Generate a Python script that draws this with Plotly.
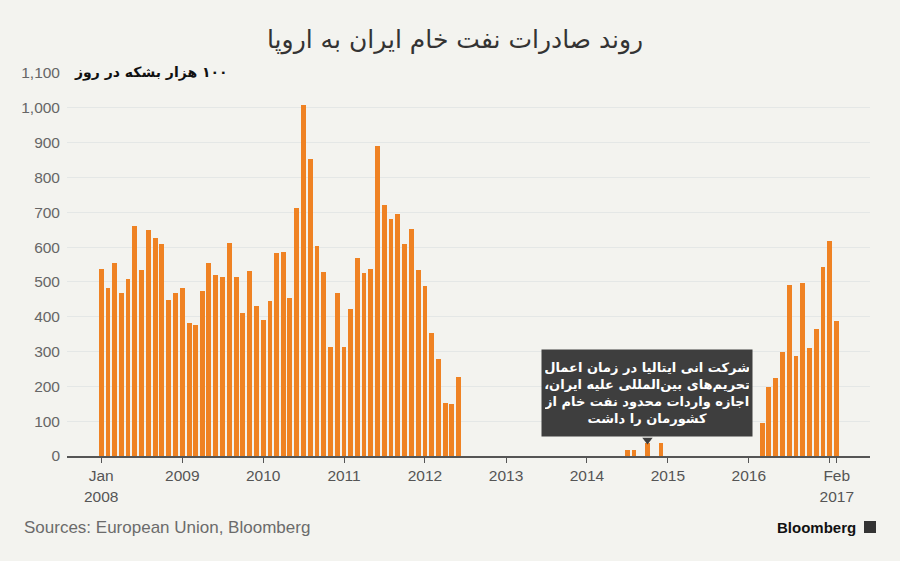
import plotly.graph_objects as go
import pandas as pd

W, H = 900, 561
L, R, T, B = 67, 30, 73, 105

# Monthly crude exports to Europe (thousand barrels/day)
months_a = pd.date_range("2008-01-01", "2012-06-01", freq="MS")
values_a = [538, 483, 555, 469, 507, 660, 534, 649, 627, 610, 447, 467,
            483, 383, 376, 473, 554, 520, 514, 612, 514, 411, 531, 431,
            392, 444, 583, 587, 453, 712, 1008, 853, 604, 528, 314, 468,
            312, 423, 569, 527, 537, 891, 720, 681, 696, 608, 653, 535,
            489, 353, 278, 152, 148, 226]
months_b = ["2014-07-01", "2014-08-01", "2014-10-01", "2014-12-01"]
values_b = [18, 18, 36, 36]
months_c = pd.date_range("2016-03-01", "2017-02-01", freq="MS")
values_c = [94, 197, 223, 298, 490, 288, 498, 310, 365, 544, 617, 389]

x_ticks = ["2008-01-01", "2009-01-01", "2010-01-01", "2011-01-01", "2012-01-01",
           "2013-01-01", "2014-01-01", "2015-01-01", "2016-01-01", "2017-01-01",
           "2017-02-01"]
x_ticktext = ["Jan<br>2008", "2009", "2010", "2011", "2012", "2013", "2014",
              "2015", "2016", "", "Feb<br>2017"]
y_ticks = [0, 100, 200, 300, 400, 500, 600, 700, 800, 900, 1000, 1100]

title = "روند صادرات نفت خام ایران به اروپا"
unit = "۱۰۰ هزار بشکه در روز"
note_lines = ["شرکت انی ایتالیا در زمان اعمال",
              "تحریم‌های بین‌المللی علیه ایران،",
              "اجازه واردات محدود نفت خام از",
              "کشورمان را داشت"]
note_x = "2014-10-01"
source = "Sources: European Union, Bloomberg"


def rtl(s):
    return "\u202B" + s + "\u202C"


x_all = [d.strftime("%Y-%m-%d") for d in months_a] + months_b + \
        [d.strftime("%Y-%m-%d") for d in months_c]
y_all = values_a + values_b + values_c

BG = "#f3f3ef"
ORANGE = "#ef8223"
DAY = 86400000

fig = go.Figure()
fig.add_trace(go.Bar(x=x_all, y=y_all, marker=dict(color=ORANGE, line=dict(width=0)),
                     width=[22 * DAY] * len(x_all), hoverinfo="x+y"))
fig.add_trace(go.Scatter(x=[note_x], y=[46], mode="markers",
                         marker=dict(symbol="triangle-down", size=9, color="#3e3e3e"),
                         hoverinfo="skip"))


def px(xp):
    return (xp - L) / (W - L - R)


def py(yp):
    return (H - B - yp) / (H - T - B)


note_text = "<br>".join(rtl(s) for s in note_lines)

fig.update_layout(
    width=W, height=H,
    margin=dict(l=L, r=R, t=T, b=B),
    paper_bgcolor=BG, plot_bgcolor=BG,
    showlegend=False,
    bargap=0,
    font=dict(family="Liberation Sans, Arial, sans-serif", color="#666666"),
    separators=".,",
    xaxis=dict(type="date", range=["2007-07-31", "2017-07-01"],
               tickvals=x_ticks, ticktext=x_ticktext,
               showgrid=False, showline=True, linecolor="#555555", linewidth=1.5,
               ticks="outside", ticklen=5, tickcolor="#555555", tickwidth=1.2,
               tickfont=dict(size=15.5, color="#555555"), zeroline=False),
    yaxis=dict(range=[0, 1100], tickvals=y_ticks, tickformat=",d",
               showgrid=True, gridcolor="#e4e7e6", gridwidth=1,
               zeroline=False, showline=False, ticks="",
               tickfont=dict(size=15.5, color="#666666"), ticklabelstandoff=6),
    annotations=[
        dict(text=rtl(title), xref="paper", yref="paper", x=px(455), y=py(40),
             xanchor="center", yanchor="middle", showarrow=False,
             font=dict(size=25, color="#333333", family="DejaVu Sans, sans-serif")),
        dict(text="<b>" + rtl(unit) + "</b>", xref="paper", yref="paper", x=px(230), y=py(72),
             xanchor="right", yanchor="middle", showarrow=False,
             font=dict(size=14, color="#111111", family="DejaVu Sans, sans-serif")),
        dict(text="<b>" + note_text + "</b>", xref="x", yref="y", x=note_x, y=56,
             xanchor="center", yanchor="bottom", showarrow=False,
             width=204, height=80,
             bgcolor="#3e3e3e", borderpad=3, align="center",
             font=dict(size=13, color="#ffffff", family="DejaVu Sans, sans-serif")),
        dict(text=source, xref="paper", yref="paper", x=px(22), y=py(527),
             xanchor="left", yanchor="middle", showarrow=False,
             font=dict(size=17, color="#6b6b6b")),
        dict(text="<b>Bloomberg</b>", xref="paper", yref="paper", x=px(858), y=py(527),
             xanchor="right", yanchor="middle", showarrow=False,
             font=dict(size=15, color="#111111")),
    ],
    shapes=[
        dict(type="rect", xref="paper", yref="paper", x0=px(864), x1=px(876),
             y0=py(533), y1=py(521), fillcolor="#333333", line=dict(width=0)),
    ],
)

fig.write_html("out.html", config={"displayModeBar": False},
               post_script="document.body.style.margin='0';")
